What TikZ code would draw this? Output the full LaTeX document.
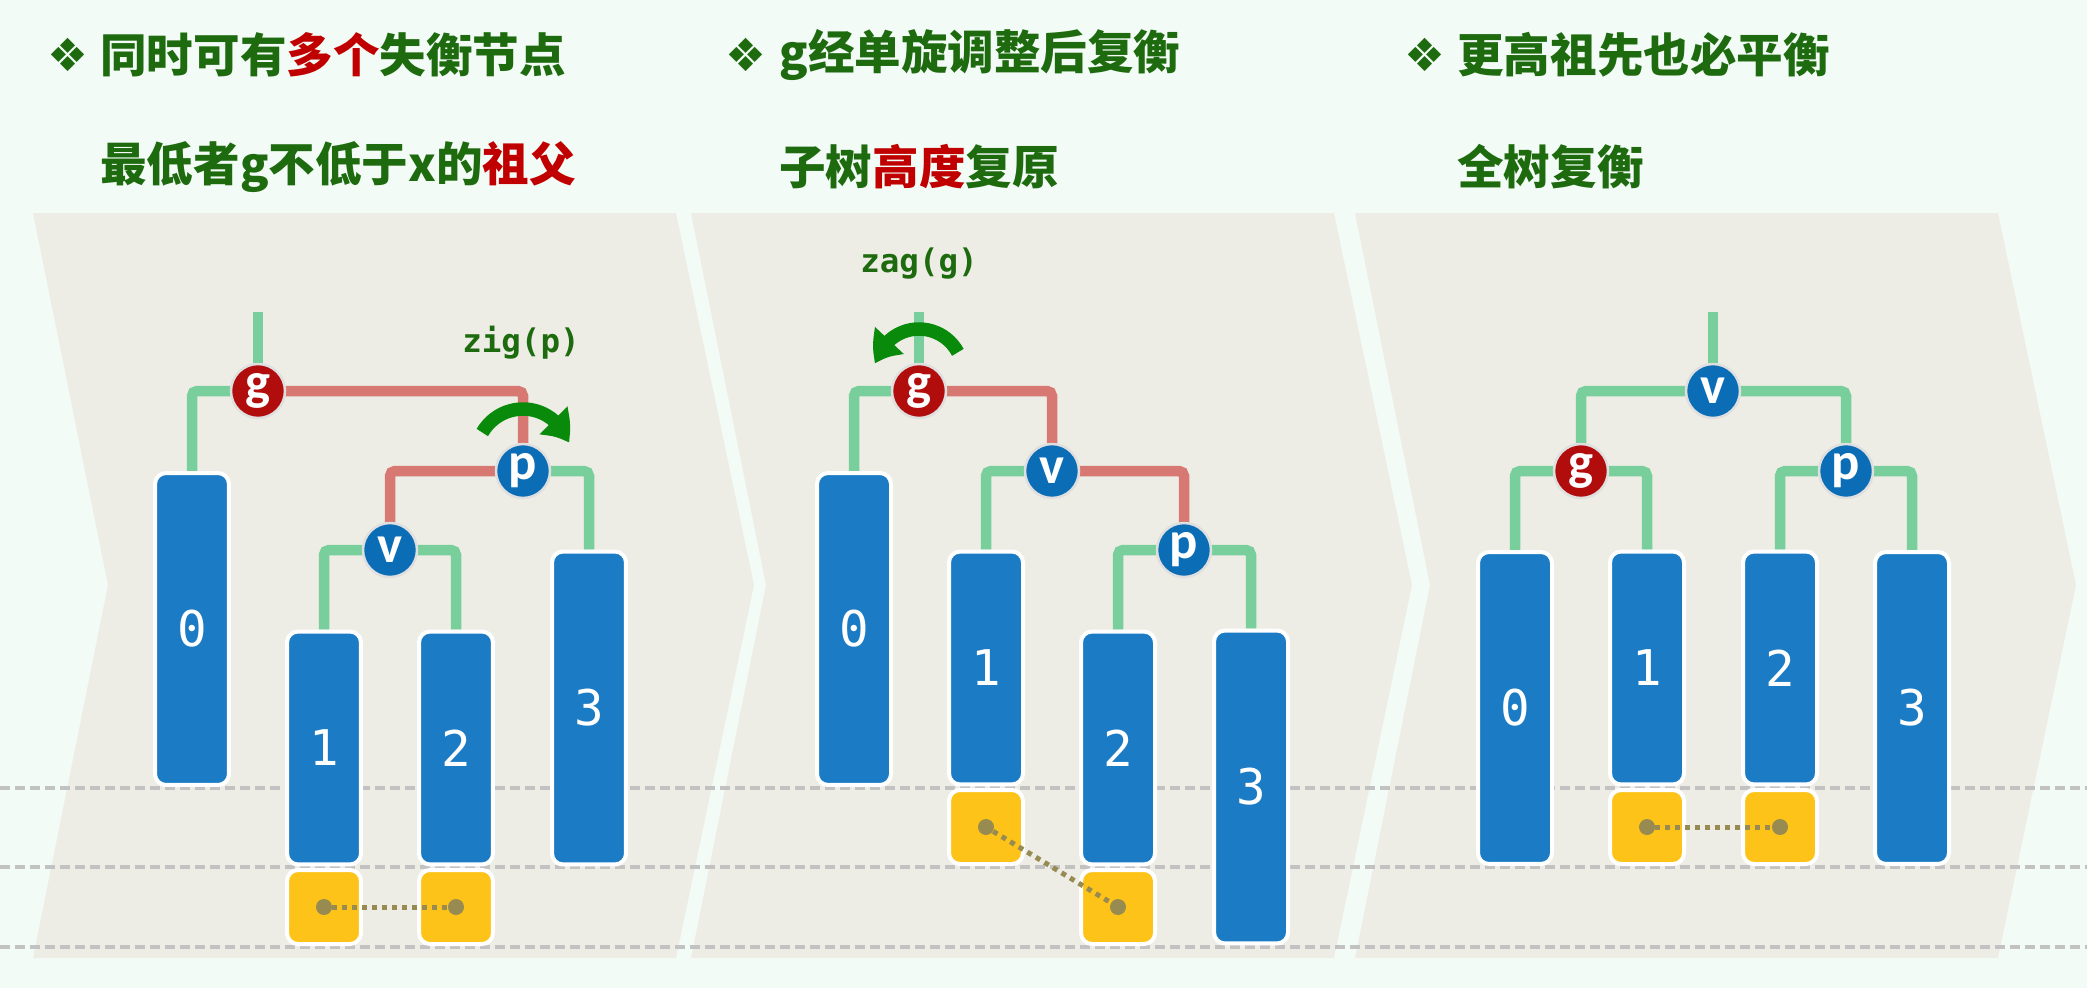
\documentclass[tikz,border=0pt]{standalone}
\usepackage{fontspec}
\usepackage{xcolor}
\usepackage{tikz}
\usetikzlibrary{arrows.meta,bending}

\newfontfamily\cjk{Noto Sans CJK SC}
\newfontfamily\symf{DejaVu Sans}
\newfontfamily\monof{DejaVu Sans Mono}
\newfontfamily\calf{Carlito}

\definecolor{bgmint}{RGB}{243,251,246}
\definecolor{panelc}{RGB}{237,237,230}
\definecolor{dashc}{RGB}{194,194,194}
\definecolor{blkblue}{RGB}{27,123,196}
\definecolor{ylwc}{RGB}{253,195,24}
\definecolor{dotc}{RGB}{151,139,82}
\definecolor{edgegreen}{RGB}{120,207,155}
\definecolor{edgered}{RGB}{216,120,114}
\definecolor{nodered}{RGB}{178,13,13}
\definecolor{nodeblue}{RGB}{11,109,181}
\definecolor{txtgreen}{RGB}{29,107,14}
\definecolor{txtred}{RGB}{192,0,0}
\definecolor{arrgreen}{RGB}{10,138,10}

\pgfdeclarelayer{bg}
\pgfdeclarelayer{edge}
\pgfsetlayers{bg,edge,main}

\tikzset{
    blk/.style={rectangle, rounded corners=0.22cm, fill=blkblue, draw=white, line width=0.08cm, minimum width=1.48cm, inner sep=0pt, text=white, font=\monof\fontsize{28}{28}\selectfont},
    ylw/.style={blk, fill=ylwc, minimum height=1.48cm},
    vtx/.style={circle, minimum size=1.08cm, inner sep=0pt, draw=white!75!gray, line width=0.05cm, text=white, font=\calf\bfseries\fontsize{30}{30}\selectfont},
    vred/.style={vtx, fill=nodered},
    vblue/.style={vtx, fill=nodeblue},
    ge/.style={draw=edgegreen, line width=0.21cm, rounded corners=0.1cm},
    re/.style={ge, draw=edgered},
    dot/.style={circle, fill=dotc, minimum size=0.32cm, inner sep=0pt},
    dotl/.style={draw=dotc, line width=0.1cm, dash pattern=on 0.1cm off 0.1cm},
    rot/.style={draw=arrgreen, line width=0.27cm, -{Triangle[width=0.75cm,length=0.55cm,bend]}},
    ttl/.style={anchor=west, inner sep=0pt, text=txtgreen, font=\cjk\bfseries\fontsize{26.5}{30}\selectfont},
    bul/.style={inner sep=0pt, text=txtgreen, font=\symf\fontsize{26}{26}\selectfont},
    op/.style={anchor=base, inner sep=0pt, text=txtgreen, font=\monof\bfseries\fontsize{18.5}{18.5}\selectfont},
    panel/.style={fill=panelc},
    hline/.style={draw=dashc, line width=0.08cm, dash pattern=on 0.2cm off 0.1cm}
}

\begin{document}
\begin{tikzpicture}[x=0.02cm, y=0.02cm]
        \useasboundingbox (0,0) rectangle (2087,-988);

        \begin{pgfonlayer}{bg}
        \fill[bgmint] (0,0) rectangle (2087,-988);
        \foreach \x in {33,691,1355}
            \fill[panel] (\x,-213) -- ++(643,0) -- ++(78,-372) -- ++(-78,-373) -- ++(-643,0) -- ++(75,373) -- cycle;
        \foreach \y in {788,867,947}
            \draw[hline] (0,-\y) -- (2087,-\y);
        \end{pgfonlayer}

        % titles
        \node[bul] (bul1) at (68,-55) {❖};
        \node[ttl] (ta1) at (100,-55) {同时可有\textcolor{txtred}{多个}失衡节点};
        \node[ttl] (tb1) at (100,-167) {最低者g不低于x的\textcolor{txtred}{祖父}};
        \node[bul] (bul2) at (746,-55) {❖};
        \node[ttl] (ta2) at (779,-55) {g经单旋调整后复衡};
        \node[ttl] (tb2) at (779,-167) {子树\textcolor{txtred}{高度}复原};
        \node[bul] (bul3) at (1425,-55) {❖};
        \node[ttl] (ta3) at (1457,-55) {更高祖先也必平衡};
        \node[ttl] (tb3) at (1457,-167) {全树复衡};

        % before
        \node[blk, minimum height=6.24cm] (a0) at (192,-629) {0};
        \node[blk, minimum height=4.66cm] (a1) at (324,-748) {1};
        \node[blk, minimum height=4.66cm] (a2) at (456,-748) {2};
        \node[blk, minimum height=6.26cm] (a3) at (589,-708) {3};
        \node[ylw] (ay1) at (324,-907) {};
        \node[ylw] (ay2) at (456,-907) {};
        \node[vred] (g1) at (258,-391) {g};
        \node[vblue] (p1) at (523,-471) {p};
        \node[vblue] (v1) at (390,-550) {v};
        \coordinate (r1) at (258,-312);
        \node[dot] (ad1) at (ay1) {};
        \node[dot] (ad2) at (ay2) {};
        \draw[dotl] (ad1) -- (ad2);

        \begin{pgfonlayer}{edge}
        \draw[ge] (r1) -- (g1.center);
        \draw[ge] (g1.center) -| (a0.north);
        \draw[re] (g1.center) -| (p1.center);
        \draw[re] (p1.center) -| (v1.center);
        \draw[ge] (p1.center) -| (a3.north);
        \draw[ge] (v1.center) -| (a1.north);
        \draw[ge] (v1.center) -| (a2.north);
        \end{pgfonlayer}

        \coordinate (z1) at (523,-456);
        \draw[rot] ([shift={(150:0.94cm)}]z1) arc[start angle=150, end angle=16, radius=0.94cm];
        \node[op] (zig) at (521,-352) {zig(p)};

        % after zig
        \node[blk, minimum height=6.24cm] (b0) at (854,-629) {0};
        \node[blk, minimum height=4.66cm] (b1) at (986,-668) {1};
        \node[blk, minimum height=4.66cm] (b2) at (1118,-748) {2};
        \node[blk, minimum height=6.26cm] (b3) at (1251,-787) {3};
        \node[ylw] (by1) at (986,-827) {};
        \node[ylw] (by2) at (1118,-907) {};
        \node[vred] (g2) at (919,-391) {g};
        \node[vblue] (v2) at (1052,-471) {v};
        \node[vblue] (p2) at (1184,-550) {p};
        \coordinate (r2) at (919,-312);
        \node[dot] (bd1) at (by1) {};
        \node[dot] (bd2) at (by2) {};
        \draw[dotl] (bd1) -- (bd2);

        \begin{pgfonlayer}{edge}
        \draw[ge] (r2) -- (g2.center);
        \draw[ge] (g2.center) -| (b0.north);
        \draw[re] (g2.center) -| (v2.center);
        \draw[ge] (v2.center) -| (b1.north);
        \draw[re] (v2.center) -| (p2.center);
        \draw[ge] (p2.center) -| (b2.north);
        \draw[ge] (p2.center) -| (b3.north);
        \end{pgfonlayer}

        \coordinate (z2) at (919,-373);
        \draw[rot] ([shift={(28:0.88cm)}]z2) arc[start angle=28, end angle=168, radius=0.88cm];
        \node[op] (zag) at (919,-272) {zag(g)};

        % after zag
        \node[blk, minimum height=6.24cm] (c0) at (1515,-708) {0};
        \node[blk, minimum height=4.66cm] (c1) at (1647,-668) {1};
        \node[blk, minimum height=4.66cm] (c2) at (1780,-668) {2};
        \node[blk, minimum height=6.24cm] (c3) at (1912,-708) {3};
        \node[ylw] (cy1) at (1647,-827) {};
        \node[ylw] (cy2) at (1780,-827) {};
        \node[vblue] (v3) at (1713,-391) {v};
        \node[vred] (g3) at (1581,-471) {g};
        \node[vblue] (p3) at (1846,-471) {p};
        \coordinate (r3) at (1713,-312);
        \node[dot] (cd1) at (cy1) {};
        \node[dot] (cd2) at (cy2) {};
        \draw[dotl] (cd1) -- (cd2);

        \begin{pgfonlayer}{edge}
        \draw[ge] (r3) -- (v3.center);
        \draw[ge] (v3.center) -| (g3.center);
        \draw[ge] (v3.center) -| (p3.center);
        \draw[ge] (g3.center) -| (c0.north);
        \draw[ge] (g3.center) -| (c1.north);
        \draw[ge] (p3.center) -| (c2.north);
        \draw[ge] (p3.center) -| (c3.north);
        \end{pgfonlayer}
\end{tikzpicture}
\end{document}
